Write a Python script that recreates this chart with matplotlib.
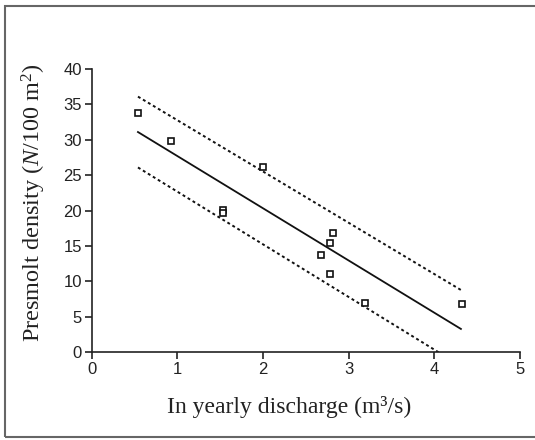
import numpy as np
import matplotlib.pyplot as plt
from matplotlib.patches import Rectangle

discharge = [0.54, 0.92, 1.53, 1.53, 2.0, 2.82, 2.78, 2.68, 2.78, 3.19, 4.32]
density = [33.8, 29.8, 20.1, 19.7, 26.2, 16.9, 15.5, 13.8, 11.0, 6.9, 6.8]

# regression line and confidence band end points
fit_x = [0.54, 4.31]
fit_y = [31.1, 3.3]
upper_x = [0.54, 4.31]
upper_y = [36.1, 8.8]
lower_x = [0.54, 4.05]
lower_y = [26.1, 0.0]

xticks = [0, 1, 2, 3, 4, 5]
yticks = [0, 5, 10, 15, 20, 25, 30, 35, 40]

plt.rcParams['font.family'] = 'Liberation Sans'
plt.rcParams['mathtext.fontset'] = 'custom'
plt.rcParams['mathtext.rm'] = 'Liberation Serif'
plt.rcParams['mathtext.it'] = 'Liberation Serif:italic'

fig = plt.figure(figsize=(5.35, 4.4), dpi=100)
ax = fig.add_axes([0.1714, 0.1993, 0.8006, 0.6439])

ax.plot(fit_x, fit_y, color='#111111', lw=1.3)
ax.plot(upper_x, upper_y, color='#111111', lw=1.4, linestyle=(0, (1.5, 1.5)))
ax.plot(lower_x, lower_y, color='#111111', lw=1.4, linestyle=(0, (1.5, 1.5)))
ax.plot(discharge, density, linestyle='none', marker='s', markersize=5,
        markerfacecolor='white', markeredgecolor='#111111', markeredgewidth=1.2,
        clip_on=False)

ax.set_xlim(0, 5)
ax.set_ylim(0, 40)
ax.set_xticks(xticks)
ax.set_yticks(yticks)
ax.spines['top'].set_visible(False)
ax.spines['right'].set_visible(False)
for s in ['left', 'bottom']:
    ax.spines[s].set_color('#222222')
    ax.spines[s].set_linewidth(1.2)
ax.tick_params(direction='out', length=5, width=1.2, color='#222222',
               labelsize=12, labelcolor='#222222', pad=2)

ax.set_xlabel('In yearly discharge (m³/s)', family='Liberation Serif',
              fontsize=17, color='#222222')
ax.set_ylabel(r'Presmolt density ($\mathit{N}$/100 m$^{2}$)', family='Liberation Serif',
              fontsize=17.5, color='#222222')
ax.xaxis.set_label_coords(0.46, -0.155)
ax.yaxis.set_label_coords(-0.102, 0.53)

fig.patches.append(Rectangle((5 / 535, 3 / 440), 1.0, 431 / 440,
                             transform=fig.transFigure, fill=False,
                             edgecolor='#666666', lw=1.5))

fig.savefig('out.png', dpi=100)
